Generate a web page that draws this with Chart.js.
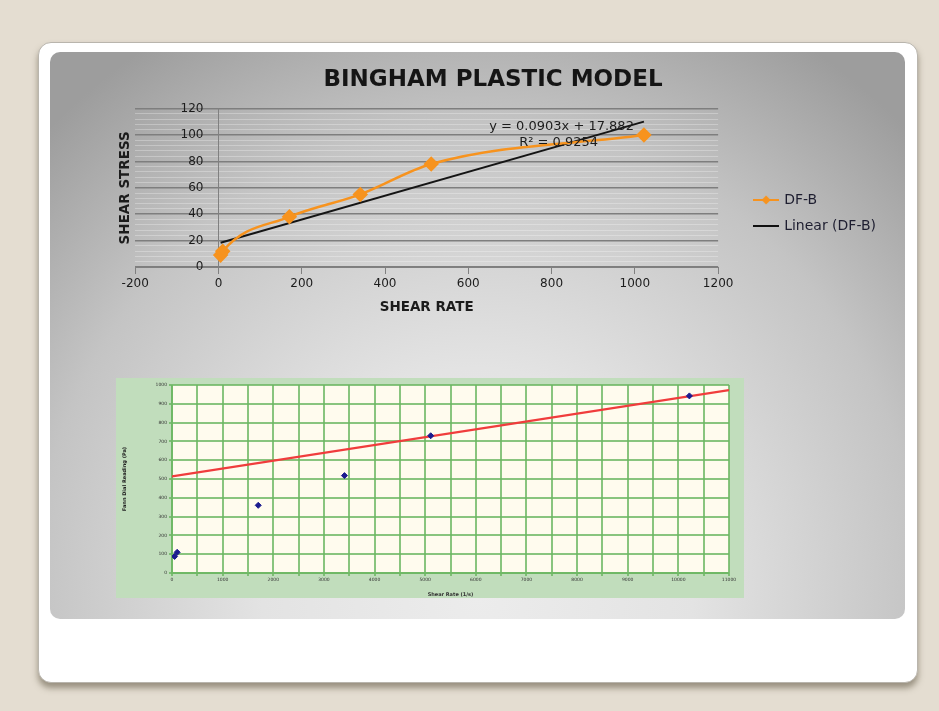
<!DOCTYPE html>
<html>
<head>
<meta charset="utf-8">
<script src="https://cdn.jsdelivr.net/npm/chart.js@4.4.1/dist/chart.umd.min.js"></script>
<style>
  html, body { margin: 0; padding: 0; }
  body { width: 939px; height: 711px; background: #e4ddd1; position: relative; overflow: hidden; font-family: "DejaVu Sans", sans-serif; }
  .card { position: absolute; left: 38px; top: 42px; width: 880px; height: 641px; background: #fff; border-radius: 13px;
          border: 1px solid #b9b5ad; box-shadow: 0 5px 6px rgba(90, 80, 60, 0.55); box-sizing: border-box; }
  .panel { position: absolute; left: 50px; top: 52px; width: 855px; height: 567px; border-radius: 10px;
           background: radial-gradient(ellipse 72% 115% at 50% 96%, #ececec 0%, #e3e3e3 35%, #c4c4c4 72%, #9d9d9d 100%); }
  #rheology { position: absolute; left: 100px; top: 58px; }
  .fannBox { position: absolute; left: 116px; top: 378px; width: 628px; height: 220px; background: #c1ddbc; }
  #fann { position: absolute; left: 0; top: 0; }
</style>
</head>
<body>
<div class="card"></div>
<div class="panel"></div>
<canvas id="rheology" width="786" height="310"></canvas>
<div class="fannBox"><canvas id="fann" width="628" height="220"></canvas></div>
<script>
// Rheology readings, DF-B mud sample
const shearRate = [5.11, 10.22, 170.3, 340.6, 510.9, 1021.8];
const shearStress = [9, 12, 38, 55, 78, 100];

// Linear trend line of DF-B
const trendSlope = 0.0903;
const trendIntercept = 17.882;
const trendR2 = 0.9254;

// Axis ticks
const rateTicks = [-200, 0, 200, 400, 600, 800, 1000, 1200];
const stressTicks = [0, 20, 40, 60, 80, 100, 120];

// Fann dial readings plotted against shear rate
const fannRate = [51, 102, 1703, 3406, 5109, 10218];
const fannReading = [88, 110, 360, 518, 730, 942];
const binghamRate = [0, 11000];
const binghamReading = [514, 973];
const fannRateTicks = [0, 1000, 2000, 3000, 4000, 5000, 6000, 7000, 8000, 9000, 10000, 11000];
const fannReadingTicks = [0, 100, 200, 300, 400, 500, 600, 700, 800, 900, 1000];

Chart.defaults.font.family = '"DejaVu Sans", sans-serif';
Chart.defaults.animation = false;

const ORANGE = '#f7931e';
const GRID_MAJOR = '#7e7e7e';
const GRID_MINOR = 'rgba(255,255,255,0.28)';

// legend swatches: line with diamond marker, plain line
function swatch(color, marker) {
  const c = document.createElement('canvas');
  c.width = 26; c.height = 12;
  const g = c.getContext('2d');
  g.strokeStyle = color; g.lineWidth = 2;
  g.beginPath(); g.moveTo(0, 6); g.lineTo(26, 6); g.stroke();
  if (marker) {
    g.fillStyle = color;
    g.beginPath(); g.moveTo(13, 1.5); g.lineTo(17.5, 6); g.lineTo(13, 10.5); g.lineTo(8.5, 6); g.closePath(); g.fill();
  }
  return c;
}
const swatches = [swatch(ORANGE, true), swatch('#111', false)];

// regression equation drawn next to the trend line
const equationLabel = {
  id: 'equationLabel',
  afterDatasetsDraw(chart, args, opts) {
    const { ctx, scales: { x, y } } = chart;
    ctx.save();
    ctx.font = opts.font;
    ctx.fillStyle = opts.color;
    ctx.textAlign = 'center';
    ctx.textBaseline = 'middle';
    for (const l of opts.lines) ctx.fillText(l.text, x.getPixelForValue(l.x), y.getPixelForValue(l.y));
    ctx.restore();
  }
};

const xMin = Math.min(...shearRate), xMax = Math.max(...shearRate);

new Chart(document.getElementById('rheology'), {
  type: 'line',
  data: {
    datasets: [
      {
        label: 'DF-B',
        data: shearRate.map((r, i) => ({ x: r, y: shearStress[i] })),
        borderColor: ORANGE, backgroundColor: ORANGE, borderWidth: 2.5,
        pointStyle: 'rectRot', pointRadius: 6, pointHoverRadius: 6,
        cubicInterpolationMode: 'monotone', xAxisID: 'x', yAxisID: 'y'
      },
      {
        label: 'Linear (DF-B)',
        data: [
          { x: xMin, y: trendSlope * xMin + trendIntercept },
          { x: xMax, y: trendSlope * xMax + trendIntercept }
        ],
        borderColor: '#151515', backgroundColor: '#151515', borderWidth: 2,
        pointRadius: 0, xAxisID: 'x', yAxisID: 'y'
      }
    ]
  },
  options: {
    responsive: false,
    layout: { padding: { left: 0, top: 0, bottom: 0, right: 0 } },
    scales: {
      x: {
        type: 'linear', position: 'bottom',
        min: rateTicks[0], max: rateTicks[rateTicks.length - 1],
        afterBuildTicks: s => { s.ticks = rateTicks.map(v => ({ value: v })); },
        ticks: { color: '#1c1c1c', font: { size: 12 }, padding: 3, maxRotation: 0, callback: v => String(v) },
        grid: { drawOnChartArea: false, drawTicks: true, tickLength: 7, color: '#808080' },
        border: { color: '#808080', width: 1 },
        title: { display: true, text: 'SHEAR RATE', color: '#1c1c1c', font: { size: 13.5, weight: 'bold' }, padding: { top: 5.4, bottom: 52 } }
      },
      y: {
        type: 'linear', position: 'left',
        min: stressTicks[0], max: stressTicks[stressTicks.length - 1],
        ticks: { display: false, stepSize: 4 },
        grid: {
          drawTicks: false,
          color: c => (c.tick && c.tick.value % 20 === 0) ? GRID_MAJOR : GRID_MINOR,
          lineWidth: c => (c.tick && c.tick.value % 20 === 0) ? 1.5 : 1
        },
        border: { display: false },
        title: { display: true, text: 'SHEAR STRESS', color: '#1c1c1c', font: { size: 13.5, weight: 'bold' }, padding: { top: 17, bottom: 2 } }
      },
      // vertical axis line crossing at zero shear rate
      yAxisAtZero: {
        type: 'linear', position: { x: 0 },
        min: stressTicks[0], max: stressTicks[stressTicks.length - 1],
        ticks: { display: false },
        grid: { drawOnChartArea: false, drawTicks: false },
        border: { color: '#808080', width: 1 }
      },
      // stress labels set just left of that axis line
      yLabels: {
        type: 'linear', position: { x: -36 },
        min: stressTicks[0], max: stressTicks[stressTicks.length - 1],
        afterBuildTicks: s => { s.ticks = stressTicks.map(v => ({ value: v })); },
        ticks: { color: '#1c1c1c', font: { size: 12 }, callback: v => String(v) },
        grid: { drawOnChartArea: false, drawTicks: false },
        border: { display: false }
      },
      gap: {
        type: 'linear', position: 'right', display: true,
        ticks: { display: false }, grid: { display: false }, border: { display: false },
        afterFit: s => { s.width = 25; }
      }
    },
    plugins: {
      title: {
        display: true, text: 'BINGHAM PLASTIC MODEL', color: '#151515',
        font: { size: 23, weight: 'bold' }, padding: { top: 8, bottom: 15 }
      },
      legend: {
        position: 'right', align: 'center', maxWidth: 220,
        labels: {
          usePointStyle: true, pointStyleWidth: 22, color: '#1e1e30', font: { size: 14 }, padding: 12,
          generateLabels: chart => Chart.defaults.plugins.legend.labels.generateLabels(chart)
            .map((item, i) => Object.assign(item, { pointStyle: swatches[i] }))
        }
      },
      tooltip: { enabled: false },
      equationLabel: {
        font: '13px "DejaVu Sans"', color: '#1c1c1c',
        lines: [
          { text: 'y = ' + trendSlope + 'x + ' + trendIntercept, x: 824, y: 106 },
          { text: 'R² = ' + trendR2, x: 817, y: 94 }
        ]
      }
    }
  },
  plugins: [equationLabel]
});

// cream plot area behind the grid
const plotBackground = {
  id: 'plotBackground',
  beforeDraw(chart, args, opts) {
    const { ctx, chartArea: { left, top, width, height } } = chart;
    ctx.save(); ctx.fillStyle = opts.color; ctx.fillRect(left, top, width, height); ctx.restore();
  }
};

const GREEN_GRID = 'rgba(108,182,98,0.8)';
new Chart(document.getElementById('fann'), {
  type: 'scatter',
  data: {
    datasets: [
      {
        label: 'Dial reading',
        data: fannRate.map((r, i) => ({ x: r, y: fannReading[i] })),
        backgroundColor: '#1b1b8f', borderColor: '#1b1b8f',
        pointStyle: 'rectRot', pointRadius: 3, pointHoverRadius: 3
      },
      {
        label: 'Bingham model',
        type: 'line',
        data: binghamRate.map((r, i) => ({ x: r, y: binghamReading[i] })),
        borderColor: '#f03c3c', borderWidth: 2.2, pointRadius: 0
      }
    ]
  },
  options: {
    responsive: false,
    layout: { padding: { top: 7, right: 15, left: 0, bottom: 0 } },
    scales: {
      x: {
        type: 'linear', min: 0, max: 11000,
        ticks: { stepSize: 500, autoSkip: false, maxRotation: 0, color: '#333', font: { size: 4.5 }, padding: 1,
                 callback: v => fannRateTicks.includes(v) ? String(v) : '' },
        grid: { color: GREEN_GRID, lineWidth: 2, tickLength: 3 },
        border: { color: GREEN_GRID, width: 2 },
        title: { display: true, text: 'Shear Rate (1/s)', color: '#333', font: { size: 5, weight: 'bold' }, padding: { top: 3, bottom: 0 } },
        afterFit: s => { s.height = 25; }
      },
      y: {
        type: 'linear', min: 0, max: 1000,
        ticks: { stepSize: 100, color: '#333', font: { size: 4.5 }, padding: 2,
                 callback: v => fannReadingTicks.includes(v) ? String(v) : '' },
        grid: { color: GREEN_GRID, lineWidth: 2, tickLength: 3 },
        border: { color: GREEN_GRID, width: 2 },
        title: { display: true, text: 'Fann Dial Reading (Pa)', color: '#222', font: { size: 5, weight: 'bold' }, padding: { top: 6, bottom: 0 } },
        afterFit: s => { s.width = 56; }
      }
    },
    plugins: {
      legend: { display: false },
      tooltip: { enabled: false },
      plotBackground: { color: '#fffbee' }
    }
  },
  plugins: [plotBackground]
});
</script>
</body>
</html>
